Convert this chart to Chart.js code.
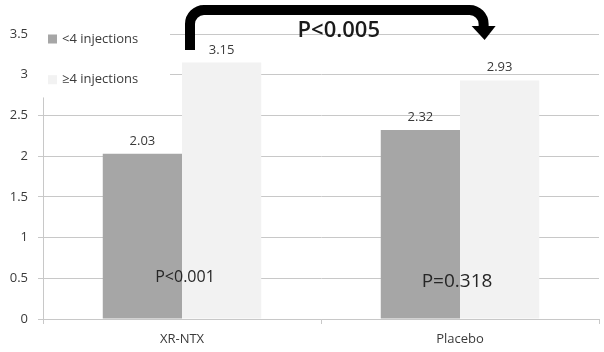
<!DOCTYPE html>
<html>
<head>
<meta charset="utf-8">
<script src="https://cdn.jsdelivr.net/npm/chart.js@4.4.0/dist/chart.umd.min.js"></script>
<style>
  html, body { margin: 0; padding: 0; background: #fff; }
  #wrap { width: 604px; height: 352px; }
</style>
</head>
<body>
<div id="wrap"><canvas id="chart" width="604" height="352"></canvas></div>
<script>
// values
const categories = ['XR-NTX', 'Placebo'];
const seriesNames = ['<4 injections', '\u22654 injections'];
const lessThan4 = [2.03, 2.32];
const atLeast4 = [3.15, 2.93];
const pInside = ['P<0.001', 'P=0.318'];
const pBetween = 'P<0.005';

const FONT = '"Open Sans", "DejaVu Sans", sans-serif';
const TEXT = '#3a3a3a';
const GRID = '#c8c8c8';
const COLORS = ['#a6a6a6', '#f2f2f2'];

// legend, value labels, p-values and the bracket arrow
const annotate = {
  id: 'annotate',
  afterDraw(chart) {
    const ctx = chart.ctx;
    const y = chart.scales.y;
    ctx.save();

    // legend sits on a white box over the top-left of the plot
    ctx.fillStyle = '#fff';
    ctx.fillRect(29, 18, 141, y.getPixelForValue(2.5) - 36);
    ctx.font = '13px ' + FONT;
    ctx.textBaseline = 'middle';
    ctx.textAlign = 'left';
    seriesNames.forEach((name, i) => {
      const ly = y.getPixelForValue(3.5 - i * 0.5) + 5;
      ctx.fillStyle = COLORS[i];
      ctx.fillRect(48, ly - 4.5, 9, 9);
      ctx.fillStyle = TEXT;
      ctx.fillText(name, 62, ly);
    });

    // value labels above bars
    ctx.textAlign = 'center';
    ctx.textBaseline = 'alphabetic';
    ctx.font = '13px ' + FONT;
    ctx.fillStyle = TEXT;
    chart.data.datasets.forEach((ds, di) => {
      chart.getDatasetMeta(di).data.forEach((bar, i) => {
        ctx.fillText(ds.data[i].toFixed(2), bar.x, bar.y - 9);
      });
    });

    // p-values written across each pair of bars
    const m0 = chart.getDatasetMeta(0).data;
    const m1 = chart.getDatasetMeta(1).data;
    ctx.fillStyle = '#262626';
    ctx.textBaseline = 'middle';
    ctx.font = '16px ' + FONT;
    ctx.fillText(pInside[0], (m0[0].x + m1[0].x) / 2 + 3, y.getPixelForValue(0.5) - 1);
    ctx.font = '19px ' + FONT;
    ctx.fillText(pInside[1], (m0[1].x + m1[1].x) / 2 - 3, y.getPixelForValue(0.5) + 3);

    // bracket arrow from XR-NTX to Placebo
    const x1 = m1[0].x - m1[0].width / 2 + 8;
    const x2 = m1[1].x - 16;
    const top = y.getPixelForValue(3.5) - 24;
    ctx.strokeStyle = '#000';
    ctx.lineWidth = 10;
    ctx.lineJoin = 'round';
    ctx.beginPath();
    ctx.moveTo(x1, y.getPixelForValue(3.5) + 16);
    ctx.arcTo(x1, top, x1 + 20, top, 14);
    ctx.arcTo(x2, top, x2, top + 20, 14);
    ctx.lineTo(x2, top + 17);
    ctx.stroke();
    ctx.fillStyle = '#000';
    ctx.beginPath();
    ctx.moveTo(x2 - 12, top + 16);
    ctx.lineTo(x2 + 12, top + 16);
    ctx.lineTo(x2 + 1, top + 30);
    ctx.closePath();
    ctx.fill();

    ctx.fillStyle = '#1a1a1a';
    ctx.font = '600 22px ' + FONT;
    ctx.textBaseline = 'middle';
    ctx.fillText(pBetween, (x1 + x2) / 2 + 2, top + 21);
    ctx.restore();
  }
};

new Chart(document.getElementById('chart'), {
  type: 'bar',
  data: {
    labels: categories,
    datasets: [
      { label: seriesNames[0], data: lessThan4, backgroundColor: COLORS[0] },
      { label: seriesNames[1], data: atLeast4, backgroundColor: COLORS[1] }
    ]
  },
  options: {
    responsive: false,
    animation: false,
    layout: { padding: { top: 34, right: 5, bottom: 0, left: 0 } },
    datasets: { bar: { barPercentage: 1, categoryPercentage: 0.57 } },
    plugins: { legend: { display: false }, tooltip: { enabled: false } },
    scales: {
      x: {
        grid: { display: true, drawOnChartArea: false, color: GRID, tickLength: 5 },
        border: { color: GRID },
        ticks: { color: TEXT, font: { family: FONT, size: 13 }, padding: 7 },
        afterFit(s) { s.height = 33; }
      },
      y: {
        min: 0, max: 3.5,
        grid: { color: GRID, tickLength: 5 },
        border: { color: GRID },
        ticks: {
          stepSize: 0.5, color: TEXT, font: { family: FONT, size: 13 }, padding: 10,
          callback: v => String(v)
        },
        afterFit(s) { s.width = 43; }
      }
    }
  },
  plugins: [annotate]
});
</script>
</body>
</html>
